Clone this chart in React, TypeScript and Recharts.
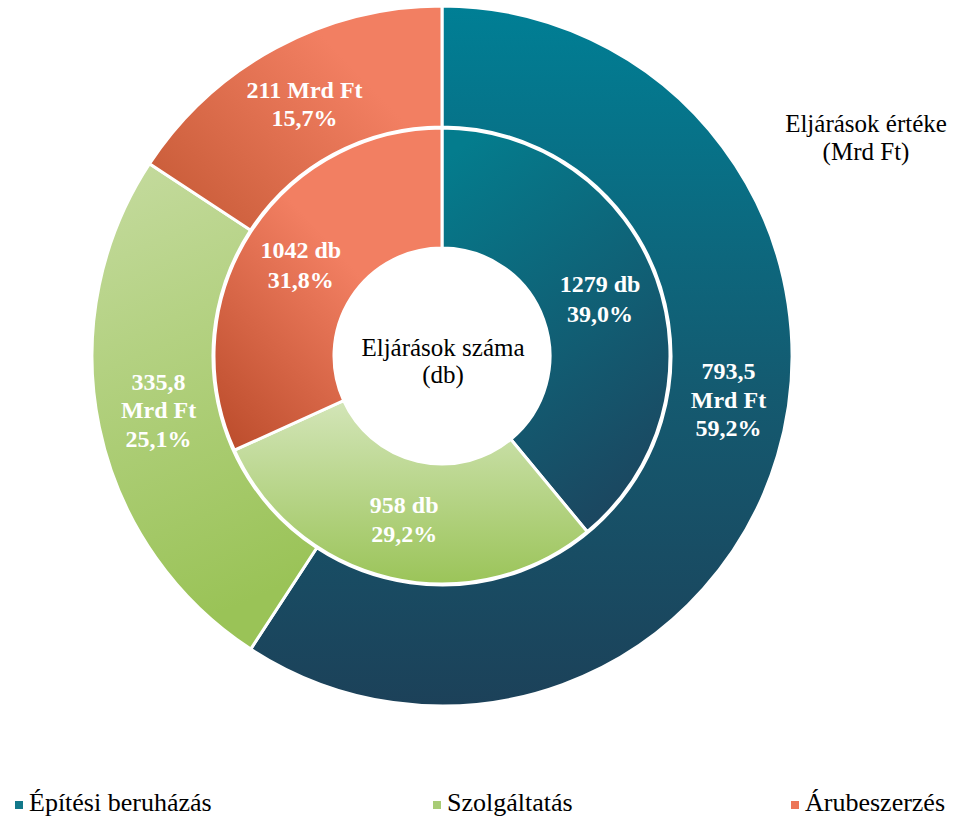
import { Cell, Pie, PieChart } from "recharts";
import type { PieLabelRenderProps } from "recharts";

const categories = ["Építési beruházás", "Szolgáltatás", "Árubeszerzés"];
const valueMrdFt = [793.5, 335.8, 211];
const countDb = [1279, 958, 1042];

const FONT = "'Liberation Serif', serif";
const CX = 442;
const CY = 356;
const RADIAN = Math.PI / 180;

// gradient ids per slice, outer ring / inner ring
const OUTER_FILLS = ["url(#gOuter0)", "url(#gOuter1)", "url(#gOuter2)"];
const INNER_FILLS = ["url(#gInner0)", "url(#gInner1)", "url(#gInner2)"];
const LEGEND_COLORS = ["#12788a", "#a8cc76", "#ec7557"];
const LEGEND_X = [15, 433, 791];
// the small orange wedge keeps "211 Mrd Ft" on one line
const SPLIT_VALUE = [true, true, false];
// the big teal label sits a bit higher than the wedge's middle in the original
const OUTER_NUDGE = [
  { dx: 9, dy: -39 },
  { dx: 0, dy: -5 },
  { dx: 0, dy: 3 },
];

const fmt = (v: number, digits = 1) =>
  v.toLocaleString("hu-HU", { minimumFractionDigits: digits, maximumFractionDigits: digits });

const fmtValue = (v: number) => (Number.isInteger(v) ? String(v) : fmt(v, 1));

const outerData = categories.map((name, i) => ({ name, value: valueMrdFt[i] }));
const innerData = categories.map((name, i) => ({ name, value: countDb[i] }));

function labelAt(props: PieLabelRenderProps, lines: string[], lineHeight: number, dx = 0, dy = 0) {
  const cx = Number(props.cx);
  const cy = Number(props.cy);
  const r = (Number(props.innerRadius) + Number(props.outerRadius)) / 2;
  const a = props.midAngle ?? 0;
  const x = cx + r * Math.cos(-a * RADIAN) + dx;
  const y = cy + r * Math.sin(-a * RADIAN) + dy;
  const first = -((lines.length - 1) / 2) * lineHeight;
  return (
    <text
      x={x}
      y={y}
      textAnchor="middle"
      dominantBaseline="central"
      fill="#fff"
      fontFamily={FONT}
      fontWeight={700}
      fontSize={24}
    >
      {lines.map((l, i) => (
        <tspan key={i} x={x} dy={i === 0 ? first : lineHeight}>
          {l}
        </tspan>
      ))}
    </text>
  );
}

const renderOuterLabel = (props: PieLabelRenderProps) => {
  const i = Number(props.index);
  const pct = `${fmt((props.percent ?? 0) * 100)}%`;
  const v = fmtValue(valueMrdFt[i]);
  const lines = SPLIT_VALUE[i] ? [v, "Mrd Ft", pct] : [`${v} Mrd Ft`, pct];
  return labelAt(props, lines, 28.5, OUTER_NUDGE[i].dx, OUTER_NUDGE[i].dy);
};

const renderInnerLabel = (props: PieLabelRenderProps) => {
  const i = Number(props.index);
  const pct = `${fmt((props.percent ?? 0) * 100)}%`;
  return labelAt(props, [`${countDb[i]} db`, pct], 29.5);
};

export default function App() {
  return (
    <div style={{ position: "absolute", left: 0, top: 0, width: 955, height: 818, background: "#fff" }}>
      <svg width={0} height={0} style={{ position: "absolute" }}>
        <defs>
          <linearGradient id="gOuter0" x1="0" y1="0" x2="0" y2="1">
            <stop offset="0%" stopColor="#007f95" />
            <stop offset="55%" stopColor="#145a70" />
            <stop offset="100%" stopColor="#1c4159" />
          </linearGradient>
          <linearGradient id="gInner0" x1="0.2" y1="0" x2="0.6" y2="1">
            <stop offset="0%" stopColor="#047c8d" />
            <stop offset="100%" stopColor="#1b4760" />
          </linearGradient>
          <linearGradient id="gOuter1" x1="0" y1="0" x2="0.2" y2="1">
            <stop offset="0%" stopColor="#c5db9f" />
            <stop offset="100%" stopColor="#9ac357" />
          </linearGradient>
          <linearGradient id="gInner1" x1="0" y1="0" x2="0" y2="1">
            <stop offset="0%" stopColor="#d3e5b8" />
            <stop offset="100%" stopColor="#9bc459" />
          </linearGradient>
          <linearGradient id="gOuter2" x1="0" y1="0.9" x2="0.75" y2="0.35">
            <stop offset="0%" stopColor="#c65a36" />
            <stop offset="100%" stopColor="#f27f62" />
          </linearGradient>
          <linearGradient id="gInner2" x1="0.5" y1="0.35" x2="0" y2="1">
            <stop offset="0%" stopColor="#f27f62" />
            <stop offset="100%" stopColor="#b94a29" />
          </linearGradient>
        </defs>
      </svg>

      <PieChart width={955} height={818} margin={{ top: 0, right: 0, bottom: 0, left: 0 }}>
        <Pie
          data={innerData}
          dataKey="value"
          nameKey="name"
          cx={CX}
          cy={CY}
          startAngle={90}
          endAngle={-270}
          innerRadius={108}
          outerRadius={228}
          stroke="#fff"
          strokeWidth={3}
          isAnimationActive={false}
          label={renderInnerLabel}
          labelLine={false}
        >
          {innerData.map((d, i) => (
            <Cell key={d.name} fill={INNER_FILLS[i]} />
          ))}
        </Pie>
        <Pie
          data={outerData}
          dataKey="value"
          nameKey="name"
          cx={CX}
          cy={CY}
          startAngle={90}
          endAngle={-270}
          innerRadius={229}
          outerRadius={350}
          stroke="#fff"
          strokeWidth={3}
          isAnimationActive={false}
          label={renderOuterLabel}
          labelLine={false}
        >
          {outerData.map((d, i) => (
            <Cell key={d.name} fill={OUTER_FILLS[i]} />
          ))}
        </Pie>
      </PieChart>

      <svg width={955} height={818} style={{ position: "absolute", left: 0, top: 0, pointerEvents: "none" }}>
        <text x={CX + 1} y={356} textAnchor="middle" fontFamily={FONT} fontSize={25} fill="#000">
          <tspan x={CX + 1}>Eljárások száma</tspan>
          <tspan x={CX + 1} dy={27}>(db)</tspan>
        </text>
        <text x={866} y={132} textAnchor="middle" fontFamily={FONT} fontSize={25} fill="#000">
          <tspan x={866}>Eljárások értéke</tspan>
          <tspan x={866} dy={28}>(Mrd Ft)</tspan>
        </text>
        {categories.map((c, i) => (
          <g key={c}>
            <rect x={LEGEND_X[i]} y={801} width={8} height={8} fill={LEGEND_COLORS[i]} />
            <text x={LEGEND_X[i] + 14} y={811} fontFamily={FONT} fontSize={26} fill="#000">
              {c}
            </text>
          </g>
        ))}
      </svg>
    </div>
  );
}
